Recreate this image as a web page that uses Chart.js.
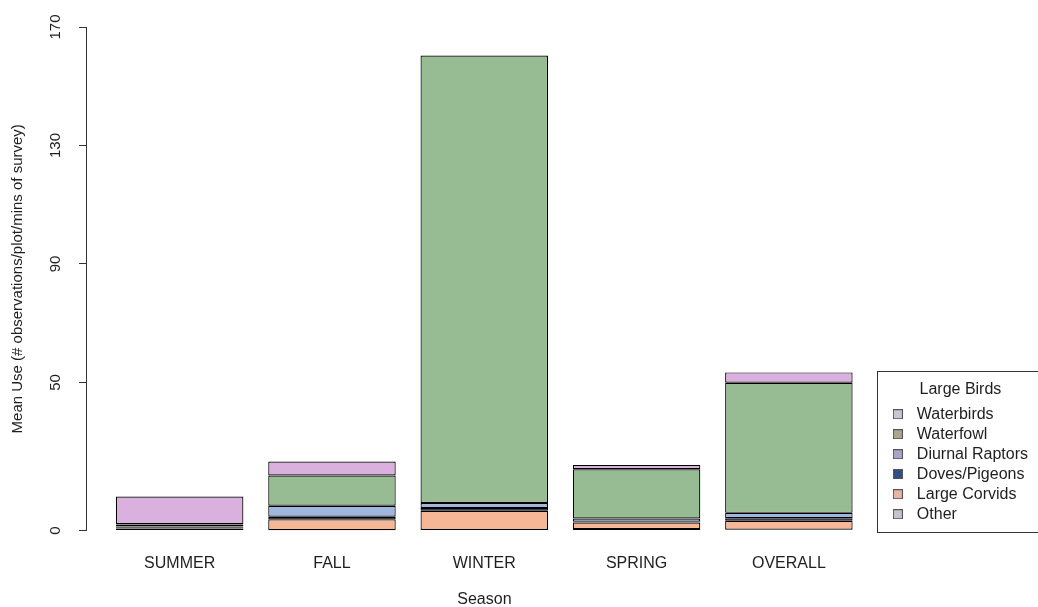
<!DOCTYPE html>
<html>
<head>
<meta charset="utf-8">
<script src="https://cdn.jsdelivr.net/npm/chart.js@4.4.1/dist/chart.umd.min.js"></script>
<style>
  html, body { margin: 0; padding: 0; background: #fff; }
</style>
</head>
<body>
<canvas id="chart" width="1038" height="607"></canvas>
<script>
// seasons along the x axis
const categories = ['SUMMER', 'FALL', 'WINTER', 'SPRING', 'OVERALL'];

// stack order, bottom to top
const groups = ['Other', 'Large Corvids', 'Doves/Pigeons', 'Diurnal Raptors', 'Waterfowl', 'Waterbirds'];

// mean use per season
const other          = [0.7, 0.1, 0.2, 0.5, 0.3];
const largeCorvids   = [0.3, 3.7, 6.5, 2.2, 3.0];
const dovesPigeons   = [0.4, 0.9, 0.9, 0.3, 0.9];
const diurnalRaptors = [0.7, 3.7, 1.7, 1.1, 1.8];
const waterfowl      = [0.1, 10.2, 151.1, 16.6, 43.9];
const waterbirds     = [9.3, 4.7, 0, 1.45, 3.5];

const yTicks = [0, 50, 90, 130, 170];

const series = [other, largeCorvids, dovesPigeons, diurnalRaptors, waterfowl, waterbirds];
const barColors = ['#c9c9c9', '#f5b796', '#243f6c', '#a0b6dc', '#97bb92', '#dab0df'];
const keyColors = ['#c4c4cc', '#e9b4a6', '#2f4f85', '#a8a6c6', '#a9a88f', '#c9c5d8'];

const font = 'Liberation Sans, Arial, Helvetica, sans-serif';
const ink = '#1e1e1e';

// small square for each legend entry
function swatch(color) {
    const c = document.createElement('canvas');
    c.width = 10;
    c.height = 10;
    const g = c.getContext('2d');
    g.fillStyle = color;
    g.fillRect(0, 0, 10, 10);
    g.strokeStyle = '#555';
    g.strokeRect(0.5, 0.5, 9, 9);
    return c;
}

// box round the legend, like R's legend()
const keyFrame = {
    id: 'keyFrame',
    afterDraw(chart) {
        const lg = chart.legend;
        const boxes = lg.legendHitBoxes;
        if (!boxes || !boxes.length) return;
        const top = Math.min(...boxes.map(b => b.top));
        const bottom = Math.max(...boxes.map(b => b.top + b.height));
        const ctx = chart.ctx;
        ctx.save();
        ctx.strokeStyle = '#333';
        ctx.lineWidth = 1;
        const x0 = Math.round(lg.left - 6) + 0.5;
        const y0 = Math.round(top - 35) + 0.5;
        const y1 = Math.round(bottom + 10) + 0.5;
        ctx.strokeRect(x0, y0, chart.width, y1 - y0);
        ctx.restore();
    }
};

const config = {
    type: 'bar',
    data: {
        datasets: groups.map((g, i) => ({
            label: g,
            data: series[i].map((v, j) => ({ x: j, y: v })),
            backgroundColor: barColors[i],
            borderColor: '#000',
            borderWidth: 1.2,
            borderSkipped: false,
            barPercentage: 0.837,
            categoryPercentage: 1
        }))
    },
    options: {
        responsive: false,
        animation: false,
        devicePixelRatio: 1,
        layout: { padding: { left: 9, right: 0, top: 27, bottom: 0 } },
        scales: {
            x: {
                type: 'linear',
                stacked: true,
                offset: false,
                bounds: 'data',
                min: -0.615,
                max: 4.617,
                afterBuildTicks: s => { s.ticks = categories.map((c, i) => ({ value: i })); },
                grid: { display: false, drawTicks: false },
                border: { display: false },
                ticks: {
                    callback: v => categories[v],
                    autoSkip: false,
                    maxRotation: 0,
                    padding: 23,
                    color: ink,
                    font: { family: font, size: 16 }
                },
                title: {
                    display: true,
                    text: 'Season',
                    color: ink,
                    font: { family: font, size: 16 },
                    padding: { top: -6, bottom: -2 }
                }
            },
            y: {
                stacked: true,
                min: 0,
                max: 170,
                afterBuildTicks: s => { s.ticks = yTicks.map(v => ({ value: v })); },
                border: { display: true, color: '#333', width: 1 },
                grid: { display: true, drawOnChartArea: false, drawTicks: true, tickLength: 7, color: '#333' },
                ticks: {
                    minRotation: 90,
                    maxRotation: 90,
                    crossAlign: 'center',
                    padding: 11,
                    color: ink,
                    font: { family: font, size: 15 }
                },
                title: {
                    display: true,
                    text: 'Mean Use (# observations/plot/mins of survey)',
                    color: ink,
                    font: { family: font, size: 15 },
                    padding: { top: 0, bottom: 12 }
                }
            }
        },
        plugins: {
            tooltip: { enabled: false },
            legend: {
                position: 'right',
                align: 'start',
                fullSize: false,
                reverse: true,
                title: {
                    display: true,
                    text: 'Large Birds',
                    color: ink,
                    font: { family: font, size: 16 },
                    padding: { top: 355, bottom: 1 }
                },
                labels: {
                    usePointStyle: true,
                    pointStyleWidth: 22,
                    padding: 4,
                    color: ink,
                    font: { family: font, size: 16 },
                    generateLabels: chart => Chart.defaults.plugins.legend.labels.generateLabels(chart)
                        .map(item => ({ ...item, pointStyle: swatch(keyColors[item.datasetIndex]) }))
                }
            }
        }
    },
    plugins: [keyFrame]
};

new Chart(document.getElementById('chart'), config);
</script>
</body>
</html>
